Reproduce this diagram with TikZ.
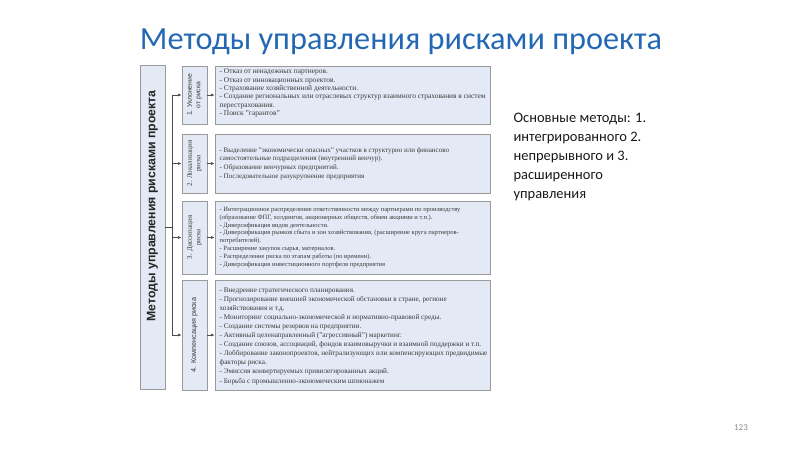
\documentclass[tikz,border=0pt]{standalone}
\usepackage{fontspec}
\setmainfont{Liberation Serif}
\newfontfamily\carlitofont{Carlito}
\newfontfamily\arialfont{Liberation Sans}
\usetikzlibrary{arrows.meta}
\definecolor{titleblue}{HTML}{2468B4}
\definecolor{boxfill}{HTML}{E3EAF5}
\definecolor{boxline}{HTML}{9A9A9A}
\definecolor{txt}{HTML}{3A3A3A}
\definecolor{conn}{HTML}{4A4A4A}
\begin{document}
\begin{tikzpicture}[x=1pt,y=-1pt,
  bx/.style={draw=boxline,fill=boxfill,line width=0.8pt,inner sep=0pt,minimum width=#1},
  labtext/.style={rotate=90,txt,align=center},
  itemtext/.style={txt,align=left,anchor=west},
  con/.style={conn,line width=0.6pt},
  arr/.style={con,-{Latex[length=3.5pt,width=3pt]}}]
\useasboundingbox (0,0) rectangle (800,450);
% title
\node[titleblue,font=\carlitofont\fontsize{32.3}{36}\selectfont] (title) at (401,42) {Методы управления рисками проекта};
% main box
\node[bx=25pt,minimum height=324pt] (main) at (152.5,227) {};
\node[rotate=90,font=\arialfont\bfseries\fontsize{12.3}{14}\selectfont,text=black!85] (maint) at (152.5,206) {Методы управления рисками проекта};
% label boxes
\node[bx=25pt,minimum height=58pt] (l1) at (194.5,95) {};
\node[bx=25pt,minimum height=59pt] (l2) at (194.5,163.5) {};
\node[bx=25pt,minimum height=73pt] (l3) at (194.5,237.5) {};
\node[bx=25pt,minimum height=110pt] (l4) at (194.5,335) {};
\node[labtext,font=\arialfont\fontsize{6.8}{8.4}\selectfont] (lt1) at (l1.center) {1. Уклонение\\от риска};
\node[labtext,font=\fontsize{7}{8.4}\selectfont] (lt2) at (l2.center) {2. Локализация\\риска};
\node[labtext,font=\fontsize{7}{8.4}\selectfont] (lt3) at (l3.center) {3. Диссипация\\риска};
\node[labtext,font=\arialfont\fontsize{7.2}{8.4}\selectfont] (lt4) at (l4.center) {4. Компенсация риска};
% text boxes
\node[bx=275pt,minimum height=58pt] (t1) at (352.5,95) {};
\node[bx=275pt,minimum height=59pt] (t2) at (352.5,163.5) {};
\node[bx=275pt,minimum height=73pt] (t3) at (352.5,237.5) {};
\node[bx=275pt,minimum height=110pt] (t4) at (352.5,335) {};
\node[itemtext,font=\fontsize{7.4}{8.4}\selectfont] (tt1) at ([xshift=1.5pt,yshift=2pt]t1.west) {- Отказ от ненадежных партнеров.\\- Отказ от инновационных проектов.\\- Страхование хозяйственной деятельности.\\- Создание региональных или отраслевых структур взаимного страхования в систем\\перестрахования.\\- Поиск "гарантов"};
\node[itemtext,font=\fontsize{7.0}{8.6}\selectfont] (tt2) at ([xshift=1.5pt]t2.west) {- Выделение "экономически опасных" участков в структурно или финансово\\самостоятельные подразделения (внутренний венчур).\\- Образование венчурных предприятий.\\- Последовательное разукрупнение предприятия};
\node[itemtext,font=\fontsize{6.5}{7.9}\selectfont] (tt3) at ([xshift=1.5pt]t3.west) {- Интеграционное распределение ответственности между партнерами по производству\\(образование ФПГ, холдингов, акционерных обществ, обмен акциями и т.п.).\\- Диверсификация видов деятельности.\\- Диверсификация рынков сбыта и зон хозяйствования, (расширение круга партнеров-\\потребителей).\\- Расширение закупок сырья, материалов.\\- Распределение риска по этапам работы (по времени).\\- Диверсификация инвестиционного портфеля предприятия};
\node[itemtext,font=\fontsize{7.2}{9.1}\selectfont] (tt4) at ([xshift=1.5pt,yshift=-1pt]t4.west) {- Внедрение стратегического планирования.\\- Прогнозирование внешней экономической обстановки в стране, регионе\\хозяйствования и т.д.\\- Мониторинг социально-экономической и нормативно-правовой среды.\\- Создание системы резервов на предприятии.\\- Активный целенаправленный ("агрессивный") маркетинг.\\- Создание союзов, ассоциаций, фондов взаимовыручки и взаимной поддержки и т.п.\\- Лоббирование законопроектов, нейтрализующих или компенсирующих предвидимые\\факторы риска.\\- Эмиссия конвертируемых привилегированных акций.\\- Борьба с промышленно-экономическим шпионажем};
% connectors
\coordinate (tr) at (172,0);
\draw[con] (main.east) -- (main.east -| tr);
\draw[con] (l1.west -| tr) -- (l4.west -| tr);
\draw[arr] (l1.west -| tr) -- (l1.west);
\draw[arr] (l2.west -| tr) -- (l2.west);
\draw[arr] (l3.west -| tr) -- (l3.west);
\draw[arr] (l4.west -| tr) -- (l4.west);
\draw[arr] (l1.east) -- (t1.west);
\draw[arr] (l2.east) -- (t2.west);
\draw[arr] (l3.east) -- (t3.west);
\draw[arr] (l4.east) -- (t4.west);
% side text
\node[anchor=north west,font=\carlitofont\fontsize{14.5}{18.8}\selectfont,align=left,text=black!90] (side) at (510,110) {Основные методы: 1.\\интегрированного 2.\\непрерывного и 3.\\расширенного\\управления};
\node[font=\carlitofont\fontsize{9}{10}\selectfont,text=black!45] (pg) at (741,428) {123};
\end{tikzpicture}
\end{document}
